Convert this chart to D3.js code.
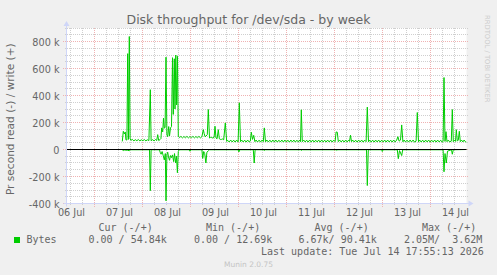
<!DOCTYPE html>
<html><head><meta charset="utf-8">
<script src="https://cdn.jsdelivr.net/npm/d3@7"></script>
<style>body{margin:0;background:#f0f0f0}svg{display:block}</style>
</head><body><svg id="c" width="497" height="275"></svg>
<script>
// ---- data (hours after 2026-07-06 10:00 UTC, value in kB/s) ----
const titleText = "Disk throughput for /dev/sda - by week";
const yAxisLabel = "Pr second read (-) / write (+)";
const dayLabels = ["06 Jul","07 Jul","08 Jul","09 Jul","10 Jul","11 Jul","12 Jul","13 Jul","14 Jul"];
const yTicks = [-400000,-200000,0,200000,400000,600000,800000];
const writeSeries = [
[27.9,60],[28.4,135],[28.9,115],[29.4,130],[29.7,72],[30.2,70],[30.6,710],[31.0,75],[31.4,837],[31.8,80],
[32.2,68],[32.9,75],[33.7,64],[34.4,73],[35.2,65],[35.9,74],[36.7,64],[37.4,72],[38.2,65],[38.9,74],[39.7,64],[40.4,72],[41.2,66],
[41.9,443],[42.3,65],[43.0,73],[43.8,64],[44.5,74],[45.1,66],[45.6,110],[46.1,66],[46.8,74],[47.2,80],
[47.6,160],[48.1,130],[48.5,232],[48.9,157],[49.3,165],[49.75,684],[50.2,110],[50.6,95],[51.1,170],[51.5,100],[52.0,160],[52.5,170],
[53.0,680],[53.4,260],[53.9,672],[54.25,300],[54.65,700],[55.05,330],[55.5,690],[55.9,98],
[56.5,88],[57.2,97],[58.0,86],[58.7,96],[59.5,87],[60.2,97],[61.0,86],[61.7,96],[62.5,87],[63.2,97],[64.0,86],[64.7,96],[65.5,87],[66.2,97],[67.0,86],[67.7,95],
[68.4,147],[68.8,120],[69.25,95],[69.8,100],[70.4,110],[70.9,296],[71.5,85],[72.0,90],[72.6,88],[73.2,85],[73.8,90],[74.25,172],[74.75,85],[75.3,80],[75.9,147],[76.4,80],[76.9,75],[77.5,75],[78.0,78],[78.6,72],[79.4,197],[80.1,60],
[80.6,68],[81.3,56],[82.1,70],[82.8,56],[83.6,69],[84.3,55],[85.1,70],[85.8,56],[86.4,346],[87.0,58],
[87.6,70],[88.3,56],[89.1,69],[89.8,55],[90.6,70],[91.3,56],[91.9,62],[92.4,128],[93.0,75],[93.6,105],[94.2,58],
[94.8,70],[95.5,56],[96.3,69],[97.0,55],[97.8,70],[98.4,58],[98.9,160],[99.5,57],
[100.2,70],[100.9,56],[101.7,69],[102.4,55],[103.2,70],[103.9,56],[104.7,70],[105.4,55],[106.2,69],[106.9,56],[107.7,70],[108.4,55],[109.2,70],[109.9,56],[110.7,69],[111.4,55],[112.2,70],[112.9,56],[113.7,70],[114.4,55],[115.2,69],[115.9,56],[116.7,70],[117.0,58],
[117.4,294],[117.9,58],
[118.6,70],[119.3,56],[120.1,69],[120.8,55],[121.6,70],[122.3,56],[123.1,70],[123.8,55],[124.6,69],[125.3,56],[126.1,70],[126.8,55],[127.6,70],[128.3,56],[129.1,69],[129.8,55],[130.6,70],[131.3,56],[132.1,70],[132.8,55],[133.6,69],[134.3,58],
[134.8,130],[135.4,128],[135.9,58],
[136.6,70],[137.3,56],[138.1,69],[138.8,55],[139.6,70],[140.3,56],[141.1,70],[141.5,60],[142.0,106],[142.5,58],
[143.1,70],[143.8,56],[144.6,69],[145.3,55],[146.1,70],[146.8,56],[147.6,70],[148.3,55],[149.1,69],[149.8,58],[150.4,314],[151.0,57],
[151.6,70],[152.3,56],[153.1,69],[153.8,55],[154.6,70],[155.3,56],[156.1,70],[156.8,55],[157.6,69],[158.3,56],[159.1,70],[159.8,55],[160.6,70],[161.3,56],[162.1,69],[162.8,55],[163.6,70],[164.3,56],[165.1,70],
[165.7,95],[166.3,62],[167.0,70],[167.6,182],[168.2,57],
[168.8,70],[169.5,56],[170.3,69],[171.0,55],[171.8,70],[172.5,56],[173.3,70],[174.0,55],[174.8,62],[175.4,274],[176.0,57],
[176.6,70],[177.3,56],[178.1,69],[178.8,55],[179.6,70],[180.3,56],[181.1,70],[181.8,55],[182.6,69],[183.3,56],[184.1,70],[184.8,55],[185.6,70],[186.3,56],[187.1,69],[187.8,55],[188.3,60],
[188.75,533],[189.25,60],[189.75,132],[190.25,58],[190.9,70],[191.6,56],[192.4,62],[192.9,296],[193.4,58],[194.0,70],[194.5,60],[194.9,147],[195.4,62],[195.9,70],[196.4,135],[196.9,58],[197.5,70],[198.2,56],[198.8,70],[199.4,58],[199.9,55]
];
const readSeries = [
[27.9,3],[28.4,8],[29.0,4],[30.6,6],[31.4,9],[32.0,2],[41.5,2],[41.9,305],[42.3,2],
[46.5,2],[46.8,20],[47.3,35],[47.8,15],[48.3,42],[48.9,77],[49.4,30],[49.75,380],[50.2,40],[50.6,20],[51.0,55],[51.5,80],[52.0,45],[52.5,60],[53.0,40],[53.6,90],[54.0,30],[54.6,100],[55.0,50],[55.45,172],[55.9,15],[56.3,2],
[61.4,2],[61.75,13],[62.1,2],
[67.7,2],[68.1,66],[68.6,15],[69.1,30],[69.7,100],[70.2,20],[70.9,10],[71.5,2],
[85.8,2],[86.2,18],[86.6,2],
[93.4,2],[93.85,100],[94.3,2],
[98.6,2],[98.9,8],[99.3,2],
[117.1,2],[117.5,7],[117.9,2],
[134.8,2],[135.1,7],[135.5,2],
[150.0,2],[150.4,267],[150.9,2],
[157.6,2],[157.9,15],[158.3,2],
[165.4,2],[165.9,68],[166.5,8],[167.6,45],[168.1,2],
[188.3,2],[188.75,165],[189.25,30],[189.9,100],[190.5,12],[192.5,2],[192.9,35],[193.4,2],
[199.9,0]
];
const legendName = "Bytes";
const legendHeaders = ["Cur (-/+)","Min (-/+)","Avg (-/+)","Max (-/+)"];
const legendValues = ["0.00 / 54.84k","0.00 / 12.69k","6.67k/ 90.41k","2.05M/  3.62M"];
const lastUpdate = "Last update: Tue Jul 14 17:55:13 2026";
const footer = "Munin 2.0.75";
const watermark = "RRDTOOL / TOBI OETIKER";

// ---- drawing ----
const H = 3600e3;
const t0 = Date.UTC(2026,6,6,10,0);
const t1 = t0 + 200*H;
const L = 66.5, R = 466.5, T = 28, B = 203.5;
const x = d3.scaleUtc().domain([t0, t1]).range([L, R]);
const y = d3.scaleLinear().domain([-400000, 900000]).range([B, T]);
const svg = d3.select("#c");
const FONT = "#666666";
const GRID = "#cfcfcf", MGRID = "#efb2b2";

svg.append("rect").attr("width",497).attr("height",275).attr("fill","#f0f0f0");
svg.append("rect").attr("x",L).attr("y",T).attr("width",R-L).attr("height",B-T).attr("fill","#ffffff");

const g = svg.append("g").attr("shape-rendering","crispEdges");
// minor grid
const minorY = d3.range(-400000, 900001, 50000).filter(v => v % 200000 !== 0);
g.selectAll(".mhy").data(minorY).join("line")
  .attr("x1",L-2).attr("x2",R+2).attr("y1",d=>Math.round(y(d)-0.5)+0.5).attr("y2",d=>Math.round(y(d)-0.5)+0.5)
  .attr("stroke",GRID).attr("stroke-dasharray","1,1");
const hours6 = d3.utcHour.every(6).range(new Date(t0), new Date(t1)).filter(d => d.getUTCHours() !== 0);
g.selectAll(".mvx").data(hours6).join("line")
  .attr("y1",T).attr("y2",B+2).attr("x1",d=>x(d)).attr("x2",d=>x(d))
  .attr("stroke",GRID).attr("stroke-dasharray","1,1");
// major grid
g.selectAll(".Mhy").data(yTicks).join("line")
  .attr("x1",L-4).attr("x2",R+2).attr("y1",d=>Math.round(y(d)-0.5)+0.5).attr("y2",d=>Math.round(y(d)-0.5)+0.5)
  .attr("stroke",MGRID).attr("stroke-dasharray","1,1");
const days = d3.utcDay.range(new Date(t0), new Date(t1));
g.selectAll(".Mvx").data(days).join("line")
  .attr("y1",T).attr("y2",B+3).attr("x1",d=>x(d)).attr("x2",d=>x(d))
  .attr("stroke",MGRID).attr("stroke-dasharray","1,1");

// y labels
svg.append("g").selectAll("text").data(yTicks).join("text")
  .attr("x",59.5).attr("y",d=>y(d)+4.2).attr("text-anchor","end")
  .attr("font-family","DejaVu Sans").attr("font-size","9.7px").attr("fill",FONT)
  .text(d => d === 0 ? "0" : (d/1000) + " k");

// x labels via axis
const noonTicks = dayLabels.map((_,i) => new Date(Date.UTC(2026,6,6+i,12)));
const xa = svg.append("g").attr("transform","translate(0.5,"+(B)+")")
  .call(d3.axisBottom(x).tickValues(noonTicks).tickFormat((d,i)=>dayLabels[i]).tickSize(0).tickPadding(0));
xa.select(".domain").remove();
xa.selectAll("text").attr("y",12.5).attr("dy",null).attr("font-family","DejaVu Sans").attr("font-size","9.7px").attr("fill",FONT);

// data lines
svg.append("clipPath").attr("id","pc").append("rect").attr("x",L).attr("y",T).attr("width",R-L+0.5).attr("height",B-T);
const line = d3.line().x(d=>x(t0+d[0]*H)).y(d=>y(d[1]));
const pg = svg.append("g").attr("clip-path","url(#pc)");
pg.append("path").datum(readSeries.map(d=>[d[0],-d[1]*1000])).attr("d",line)
  .attr("fill","none").attr("stroke","#00cc00").attr("stroke-width",1);
pg.append("path").datum(writeSeries.map(d=>[d[0],d[1]*1000])).attr("d",line)
  .attr("fill","none").attr("stroke","#00cc00").attr("stroke-width",1);
// zero rule
svg.append("line").attr("x1",L).attr("x2",R).attr("y1",y(0)).attr("y2",y(0)).attr("stroke","#000").attr("stroke-width",1);

// axes with arrows
const AX = "#cfd6f8";
svg.append("line").attr("x1",L-3).attr("x2",R+3).attr("y1",B).attr("y2",B).attr("stroke",AX);
svg.append("line").attr("x1",L).attr("x2",L).attr("y1",B+3).attr("y2",T-4).attr("stroke",AX);
svg.append("path").attr("d",`M${R+2},${B-3}L${R+7},${B}L${R+2},${B+3}Z`).attr("fill",AX);
svg.append("path").attr("d",`M${L-3},${T-2}L${L},${T-7}L${L+3},${T-2}Z`).attr("fill",AX);

// title & axis label
svg.append("text").attr("x",248.5).attr("y",24).attr("text-anchor","middle")
  .attr("font-family","DejaVu Sans").attr("font-size","12.5px").attr("fill",FONT).text(titleText);
svg.append("text").attr("transform","translate(13.8,119.2) rotate(-90)").attr("text-anchor","middle")
  .attr("font-family","DejaVu Sans").attr("font-size","10.6px").attr("fill",FONT).text(yAxisLabel);

// legend
const mono = t => t.attr("font-family","DejaVu Sans Mono").attr("font-size","10px").attr("fill",FONT).attr("xml:space","preserve").style("white-space","pre");
const hdrX = [98.5, 206, 314.5, 422];
const valX = [88.5, 194, 298.5, 404];
legendHeaders.forEach((h,i)=> svg.append("text").attr("x",hdrX[i]).attr("y",231).call(mono).text(h));
svg.append("rect").attr("x",14).attr("y",237).attr("width",6).attr("height",6).attr("fill","#00cc00");
svg.append("text").attr("x",26.5).attr("y",243).call(mono).text(legendName);
legendValues.forEach((v,i)=> svg.append("text").attr("x",valX[i]).attr("y",243).call(mono).text(v));
svg.append("text").attr("x",261).attr("y",255).call(mono).text(lastUpdate);
svg.append("text").attr("x",248.5).attr("y",267).attr("text-anchor","middle")
  .attr("font-family","DejaVu Sans").attr("font-size","7.5px").attr("fill","#c4c4c4").text(footer);
svg.append("text").attr("transform","translate(485.3,15) rotate(90)")
  .attr("font-family","DejaVu Sans").attr("font-size","6.8px").attr("fill","#cccccc").text(watermark);
</script></body></html>
